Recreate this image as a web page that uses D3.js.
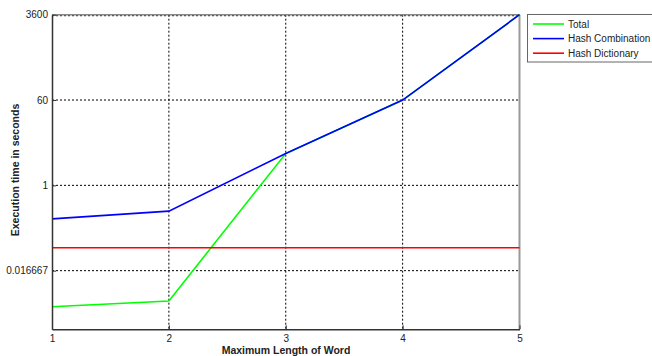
<!DOCTYPE html>
<html><head><meta charset="utf-8">
<script src="https://cdn.jsdelivr.net/npm/d3@7"></script>
<style>body{margin:0;background:#fff}svg{display:block;font-family:"Liberation Sans",Arial,sans-serif}</style>
</head><body><svg id="c" width="652" height="356"></svg>
<script>
const xValues = [1, 2, 3, 4, 5];
const total = [0.00295, 0.0039, 4.6, 60, 3600];
const hashCombination = [0.2, 0.29, 4.6, 60, 3600];
const hashDictionary = [0.05, 0.05, 0.05, 0.05, 0.05];
const yTicks = [0.016667, 1, 60, 3600];
const yTickLabels = ["0.016667", "1", "60", "3600"];
const seriesNames = ["Total", "Hash Combination", "Hash Dictionary"];
const seriesColors = ["#00ff00", "#0000ff", "#ff0000"];

const svg = d3.select("#c");
const L = 52, R = 519.5, T = 14.7, B = 329.3;
const x = d3.scaleLinear().domain([1, 5]).range([L, R]);
const y = d3.scaleLog().domain([0.001, 3600]).range([B, T]);

// grid
const g = svg.append("g");
g.selectAll(".gx").data(xValues.slice(1, -1)).enter().append("line")
  .attr("x1", d => x(d)).attr("x2", d => x(d)).attr("y1", T).attr("y2", B)
  .attr("stroke", "#000").attr("stroke-width", 1).attr("stroke-dasharray", "2,2");
g.selectAll(".gy").data(yTicks.slice(0, -1)).enter().append("line")
  .attr("x1", L).attr("x2", R).attr("y1", d => y(d)).attr("y2", d => y(d))
  .attr("stroke", "#000").attr("stroke-width", 1).attr("stroke-dasharray", "2,2");
// top grid line
svg.append("line").attr("x1", L).attr("x2", R).attr("y1", T + 1).attr("y2", T + 1)
  .attr("stroke", "#000").attr("stroke-dasharray", "2,2");

// box top/right gray
svg.append("line").attr("x1", L).attr("x2", R).attr("y1", T).attr("y2", T).attr("stroke", "#888").attr("stroke-width", 1.5);
svg.append("line").attr("x1", R).attr("x2", R).attr("y1", T).attr("y2", B).attr("stroke", "#999").attr("stroke-width", 2);

// lines
const line = d3.line().x((d, i) => x(xValues[i])).y(d => y(d));
const seriesData = [total, hashCombination, hashDictionary];
[0, 2, 1].forEach(k => {
  svg.append("path").datum(seriesData[k]).attr("d", line)
    .attr("fill", "none").attr("stroke", seriesColors[k]).attr("stroke-width", 1.6);
});

// axes
const xAxis = d3.axisBottom(x).tickValues(xValues).tickFormat(d3.format("d")).tickSizeInner(-4).tickSizeOuter(0).tickPadding(6);
const yAxis = d3.axisLeft(y).tickValues(yTicks).tickFormat((d, i) => yTickLabels[i]).tickSizeInner(-4).tickSizeOuter(0).tickPadding(4);
const ax = svg.append("g").attr("transform", `translate(0,${B})`).call(xAxis);
const ay = svg.append("g").attr("transform", `translate(${L},0)`).call(yAxis);
[ax, ay].forEach(a => {
  a.select(".domain").attr("stroke", "#333").attr("stroke-width", 1.5);
  a.selectAll(".tick line").attr("stroke", "#333");
  a.selectAll("text").attr("font-size", 10).attr("fill", "#222").attr("font-family", "Liberation Sans, Arial, sans-serif");
});

// axis labels
svg.append("text").attr("x", 286).attr("y", 354).attr("text-anchor", "middle")
  .attr("font-size", 10.5).attr("font-weight", "bold").attr("fill", "#222").text("Maximum Length of Word");
svg.append("text").attr("transform", "translate(19,170) rotate(-90)").attr("text-anchor", "middle")
  .attr("font-size", 10.5).attr("font-weight", "bold").attr("fill", "#222").text("Execution time in seconds");

// legend
const lg = svg.append("g");
lg.append("rect").attr("x", 527.5).attr("y", 14.5).attr("width", 130).attr("height", 47.5)
  .attr("fill", "#fff").attr("stroke", "#666").attr("stroke-width", 1);
seriesNames.forEach((n, i) => {
  const yy = 24 + i * 14.6;
  lg.append("line").attr("x1", 533).attr("x2", 564).attr("y1", yy).attr("y2", yy)
    .attr("stroke", seriesColors[i]).attr("stroke-width", 1.6);
  lg.append("text").attr("x", 568).attr("y", yy + 3.6).attr("font-size", 10).attr("fill", "#222").text(n);
});
</script></body></html>
